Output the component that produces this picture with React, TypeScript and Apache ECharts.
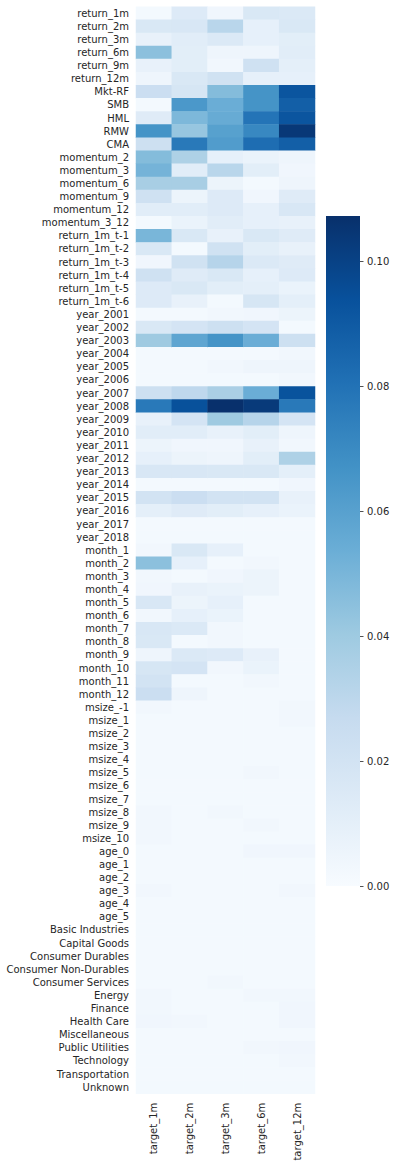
import React, { useEffect, useRef } from "react";
import * as echarts from "echarts";

const rows = [
  "return_1m", "return_2m", "return_3m", "return_6m", "return_9m", "return_12m",
  "Mkt-RF", "SMB", "HML", "RMW", "CMA",
  "momentum_2", "momentum_3", "momentum_6", "momentum_9", "momentum_12", "momentum_3_12",
  "return_1m_t-1", "return_1m_t-2", "return_1m_t-3", "return_1m_t-4", "return_1m_t-5", "return_1m_t-6",
  "year_2001", "year_2002", "year_2003", "year_2004", "year_2005", "year_2006", "year_2007", "year_2008",
  "year_2009", "year_2010", "year_2011", "year_2012", "year_2013", "year_2014", "year_2015", "year_2016",
  "year_2017", "year_2018",
  "month_1", "month_2", "month_3", "month_4", "month_5", "month_6", "month_7", "month_8", "month_9",
  "month_10", "month_11", "month_12",
  "msize_-1", "msize_1", "msize_2", "msize_3", "msize_4", "msize_5", "msize_6", "msize_7", "msize_8",
  "msize_9", "msize_10",
  "age_0", "age_1", "age_2", "age_3", "age_4", "age_5",
  "Basic Industries", "Capital Goods", "Consumer Durables", "Consumer Non-Durables", "Consumer Services",
  "Energy", "Finance", "Health Care", "Miscellaneous", "Public Utilities", "Technology", "Transportation",
  "Unknown",
];

const targets = ["target_1m", "target_2m", "target_3m", "target_6m", "target_12m"];

const target1m = [
  0.002, 0.016, 0.008, 0.045, 0.008, 0.005, 0.024, 0.002, 0.013, 0.066, 0.023,
  0.047, 0.051, 0.037, 0.022, 0.012, 0.002,
  0.050, 0.016, 0.004, 0.022, 0.014, 0.014,
  0.002, 0.016, 0.040, 0.002, 0.002, 0.002, 0.023, 0.077, 0.008, 0.012, 0.006, 0.009, 0.017, 0.002, 0.020, 0.010, 0.002, 0.002,
  0.003, 0.045, 0.003, 0.004, 0.017, 0.003, 0.017, 0.016, 0.005, 0.018, 0.020, 0.024,
  0.003, 0.002, 0.002, 0.002, 0.002, 0.002, 0.002, 0.002, 0.003, 0.003, 0.003,
  0.002, 0.002, 0.002, 0.003, 0.002, 0.002,
  0.002, 0.002, 0.002, 0.002, 0.002, 0.003, 0.003, 0.004, 0.002, 0.002, 0.002, 0.002, 0.002,
];
const target2m = [
  0.014, 0.017, 0.012, 0.011, 0.011, 0.016, 0.018, 0.064, 0.049, 0.042, 0.077,
  0.035, 0.012, 0.037, 0.006, 0.012, 0.007,
  0.016, 0.002, 0.021, 0.013, 0.016, 0.008,
  0.002, 0.019, 0.058, 0.002, 0.002, 0.002, 0.029, 0.094, 0.019, 0.012, 0.004, 0.006, 0.017, 0.002, 0.024, 0.013, 0.002, 0.002,
  0.016, 0.009, 0.002, 0.008, 0.006, 0.009, 0.015, 0.002, 0.015, 0.019, 0.002, 0.005,
  0.002, 0.002, 0.002, 0.002, 0.002, 0.002, 0.002, 0.002, 0.002, 0.002, 0.002,
  0.002, 0.002, 0.002, 0.002, 0.002, 0.002,
  0.002, 0.002, 0.002, 0.002, 0.002, 0.002, 0.002, 0.003, 0.002, 0.002, 0.002, 0.002, 0.002,
];
const target3m = [
  0.004, 0.031, 0.015, 0.005, 0.003, 0.021, 0.047, 0.054, 0.055, 0.060, 0.062,
  0.009, 0.031, 0.006, 0.014, 0.014, 0.012,
  0.008, 0.021, 0.032, 0.016, 0.011, 0.002,
  0.003, 0.023, 0.066, 0.002, 0.003, 0.002, 0.036, 0.107, 0.040, 0.008, 0.004, 0.005, 0.016, 0.002, 0.020, 0.011, 0.002, 0.002,
  0.009, 0.002, 0.004, 0.007, 0.009, 0.007, 0.003, 0.003, 0.014, 0.003, 0.002, 0.002,
  0.002, 0.002, 0.002, 0.002, 0.002, 0.002, 0.002, 0.002, 0.003, 0.002, 0.002,
  0.002, 0.002, 0.002, 0.002, 0.002, 0.002,
  0.002, 0.002, 0.002, 0.002, 0.003, 0.002, 0.002, 0.002, 0.002, 0.002, 0.002, 0.002, 0.002,
];
const target6m = [
  0.016, 0.009, 0.009, 0.005, 0.022, 0.009, 0.066, 0.066, 0.079, 0.071, 0.082,
  0.007, 0.011, 0.002, 0.004, 0.009, 0.009,
  0.016, 0.011, 0.015, 0.009, 0.010, 0.018,
  0.004, 0.019, 0.054, 0.002, 0.005, 0.002, 0.054, 0.103, 0.032, 0.011, 0.008, 0.011, 0.016, 0.002, 0.020, 0.009, 0.002, 0.002,
  0.002, 0.003, 0.006, 0.006, 0.002, 0.002, 0.002, 0.002, 0.008, 0.007, 0.003, 0.002,
  0.002, 0.002, 0.002, 0.002, 0.002, 0.003, 0.002, 0.002, 0.002, 0.003, 0.002,
  0.004, 0.002, 0.002, 0.002, 0.002, 0.002,
  0.002, 0.002, 0.002, 0.002, 0.002, 0.003, 0.002, 0.002, 0.002, 0.003, 0.002, 0.002, 0.002,
];
const target12m = [
  0.015, 0.016, 0.011, 0.012, 0.010, 0.009, 0.092, 0.088, 0.092, 0.104, 0.088,
  0.005, 0.004, 0.005, 0.013, 0.017, 0.008,
  0.013, 0.008, 0.013, 0.014, 0.007, 0.010,
  0.006, 0.002, 0.023, 0.003, 0.005, 0.003, 0.093, 0.077, 0.019, 0.005, 0.003, 0.035, 0.010, 0.004, 0.008, 0.007, 0.002, 0.002,
  0.002, 0.002, 0.002, 0.002, 0.002, 0.002, 0.002, 0.002, 0.002, 0.002, 0.002, 0.002,
  0.003, 0.003, 0.002, 0.002, 0.002, 0.002, 0.002, 0.002, 0.002, 0.002, 0.002,
  0.004, 0.002, 0.002, 0.003, 0.002, 0.002,
  0.002, 0.002, 0.002, 0.002, 0.002, 0.003, 0.004, 0.004, 0.002, 0.004, 0.003, 0.002, 0.002,
];

const colorbarTicks = [0, 0.02, 0.04, 0.06, 0.08, 0.1];
const colorMin = 0;
const colorMax = 0.1072;

const blues = ["#f7fbff", "#deebf7", "#c6dbef", "#9ecae1", "#6baed6", "#4292c6", "#2171b5", "#08519c", "#08306b"];

const FONT = "DejaVu Sans";
const TEXT = "#262626";

export default function App() {
  const ref = useRef<HTMLDivElement>(null);
  useEffect(() => {
    if (!ref.current) return;
    const chart = echarts.init(ref.current, null, { renderer: "svg" });
    const columns = [target1m, target2m, target3m, target6m, target12m];
    const data: number[][] = [];
    columns.forEach((col, xi) => {
      col.forEach((v, yi) => data.push([xi, yi, v]));
    });
    const gradientStops = blues.map((c, i) => ({ offset: i / (blues.length - 1), color: c }));
    chart.setOption({
      animation: false,
      backgroundColor: "#ffffff",
      grid: [
        { left: 136, top: 6.7, width: 179, height: 1087 },
        { left: 326, top: 216, width: 34, height: 670 },
      ],
      xAxis: [
        {
          type: "category",
          gridIndex: 0,
          data: targets,
          position: "bottom",
          axisLine: { show: false },
          axisTick: { show: false },
          splitLine: { show: false },
          axisLabel: { rotate: 90, margin: 9, fontSize: 10, color: TEXT, fontFamily: FONT, interval: 0 },
        },
        { type: "category", gridIndex: 1, data: [""], show: false },
      ],
      yAxis: [
        {
          type: "category",
          gridIndex: 0,
          data: rows,
          inverse: true,
          axisLine: { show: false },
          axisTick: { show: false },
          splitLine: { show: false },
          axisLabel: { margin: 7, fontSize: 10, color: TEXT, fontFamily: FONT, interval: 0 },
        },
        {
          type: "value",
          gridIndex: 1,
          min: colorMin,
          max: colorMax,
          position: "right",
          axisLine: { show: false },
          splitLine: { show: false },
          axisTick: { show: true, length: 3.5, lineStyle: { color: TEXT, width: 0.8 }, customValues: colorbarTicks },
          axisLabel: {
            margin: 7,
            fontSize: 10,
            color: TEXT,
            fontFamily: FONT,
            customValues: colorbarTicks,
            formatter: (v: number) => v.toFixed(2),
          },
        },
      ],
      visualMap: {
        show: false,
        type: "continuous",
        min: colorMin,
        max: colorMax,
        dimension: 2,
        seriesIndex: 0,
        inRange: { color: blues },
      },
      series: [
        {
          type: "heatmap",
          xAxisIndex: 0,
          yAxisIndex: 0,
          data,
          itemStyle: { borderWidth: 0 },
          emphasis: { disabled: true },
        },
        {
          type: "bar",
          xAxisIndex: 1,
          yAxisIndex: 1,
          data: [colorMax],
          barWidth: "100%",
          silent: true,
          itemStyle: {
            color: new echarts.graphic.LinearGradient(0, 1, 0, 0, gradientStops),
          },
        },
      ],
    });
    return () => chart.dispose();
  }, []);
  return (
    <div
      ref={ref}
      style={{ position: "absolute", left: 0, top: 0, width: 396, height: 1166, background: "#fff" }}
    />
  );
}
